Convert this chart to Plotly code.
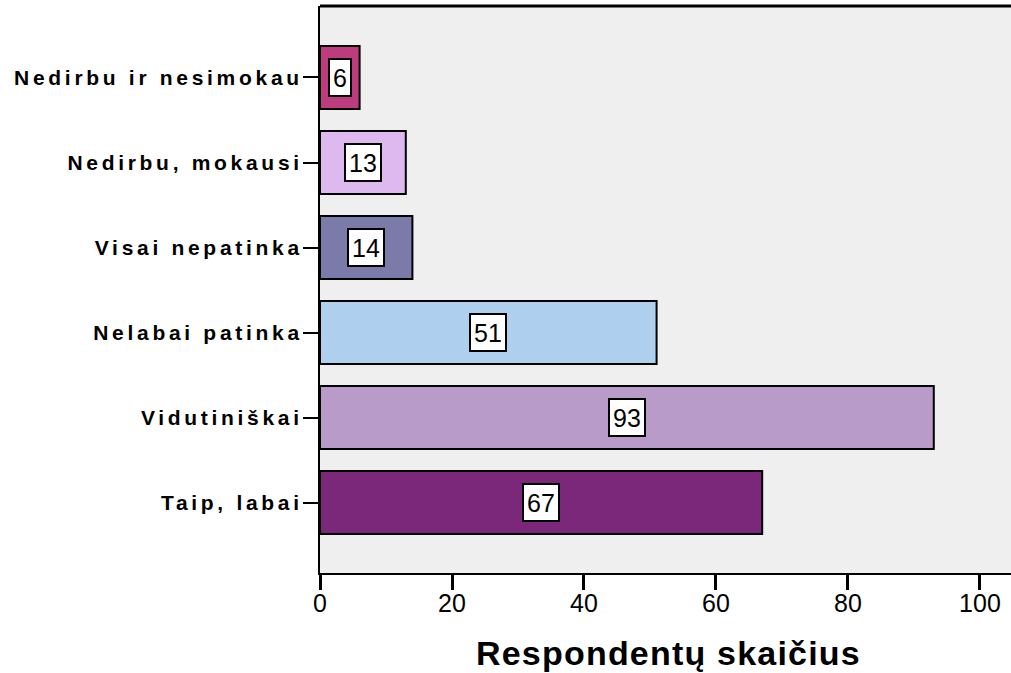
import plotly.graph_objects as go

categories = ["Taip, labai", "Vidutiniškai", "Nelabai patinka", "Visai nepatinka",
              "Nedirbu, mokausi", "Nedirbu ir nesimokau"]
values = [67, 93, 51, 14, 13, 6]
colors = ["#7B287B", "#B89BC9", "#AED0EE", "#7B7BAA", "#DDB9F0", "#BC3C7D"]
x_ticks = [0, 20, 40, 60, 80, 100]
x_title = "Respondentų skaičius"

FONT = "Liberation Sans, Arial, sans-serif"

fig = go.Figure()
fig.add_trace(go.Bar(
    y=list(range(len(categories))), x=values, orientation="h",
    marker=dict(color=colors, line=dict(color="black", width=2)),
    width=0.74, hoverinfo="skip",
))

for i, v in enumerate(values):
    fig.add_annotation(
        x=v / 2, y=i, text=str(v), showarrow=False, height=29,
        font=dict(family=FONT, size=25, color="black"),
        bgcolor="white", bordercolor="black", borderwidth=2, borderpad=3,
    )

# axis title as annotation for precise placement
fig.add_annotation(
    x=0.504, y=-0.141, xref="paper", yref="paper", xanchor="center", yanchor="middle",
    text=f'<span style="letter-spacing:1.2px">{x_title}</span>', showarrow=False,
    font=dict(family=FONT, size=34, color="black", weight="bold"),
)

fig.add_shape(type="line", xref="paper", yref="paper", x0=0, x1=1, y0=1, y1=1,
              line=dict(color="black", width=3))

fig.update_layout(
    width=1011, height=673,
    margin=dict(l=320, r=0, t=6, b=100),
    paper_bgcolor="white", plot_bgcolor="#EFEFEF",
    showlegend=False,
    font=dict(family=FONT, color="black"),
    xaxis=dict(
        range=[0, 104.7], tickvals=x_ticks, ticktext=[str(t) for t in x_ticks],
        showgrid=False, zeroline=False, showline=True, linecolor="black", linewidth=2,
        ticks="outside", ticklen=15, tickwidth=3, tickcolor="black",
        tickfont=dict(size=25, family=FONT), ticklabelstandoff=-8,
    ),
    yaxis=dict(
        range=[-0.829, 5.841], tickvals=list(range(len(categories))),
        ticktext=[f'<span style="letter-spacing:3.7px">{c}</span>' for c in categories],
        showgrid=False, zeroline=False, showline=True, linecolor="black", linewidth=2,
        ticks="outside", ticklen=15, tickwidth=2, tickcolor="black",
        tickfont=dict(size=21, family=FONT, weight="bold"), ticklabelstandoff=-4,
    ),
)

fig.write_html("out.html", config={"displayModeBar": False},
               post_script="document.body.style.margin='0';document.body.style.overflow='hidden';")
